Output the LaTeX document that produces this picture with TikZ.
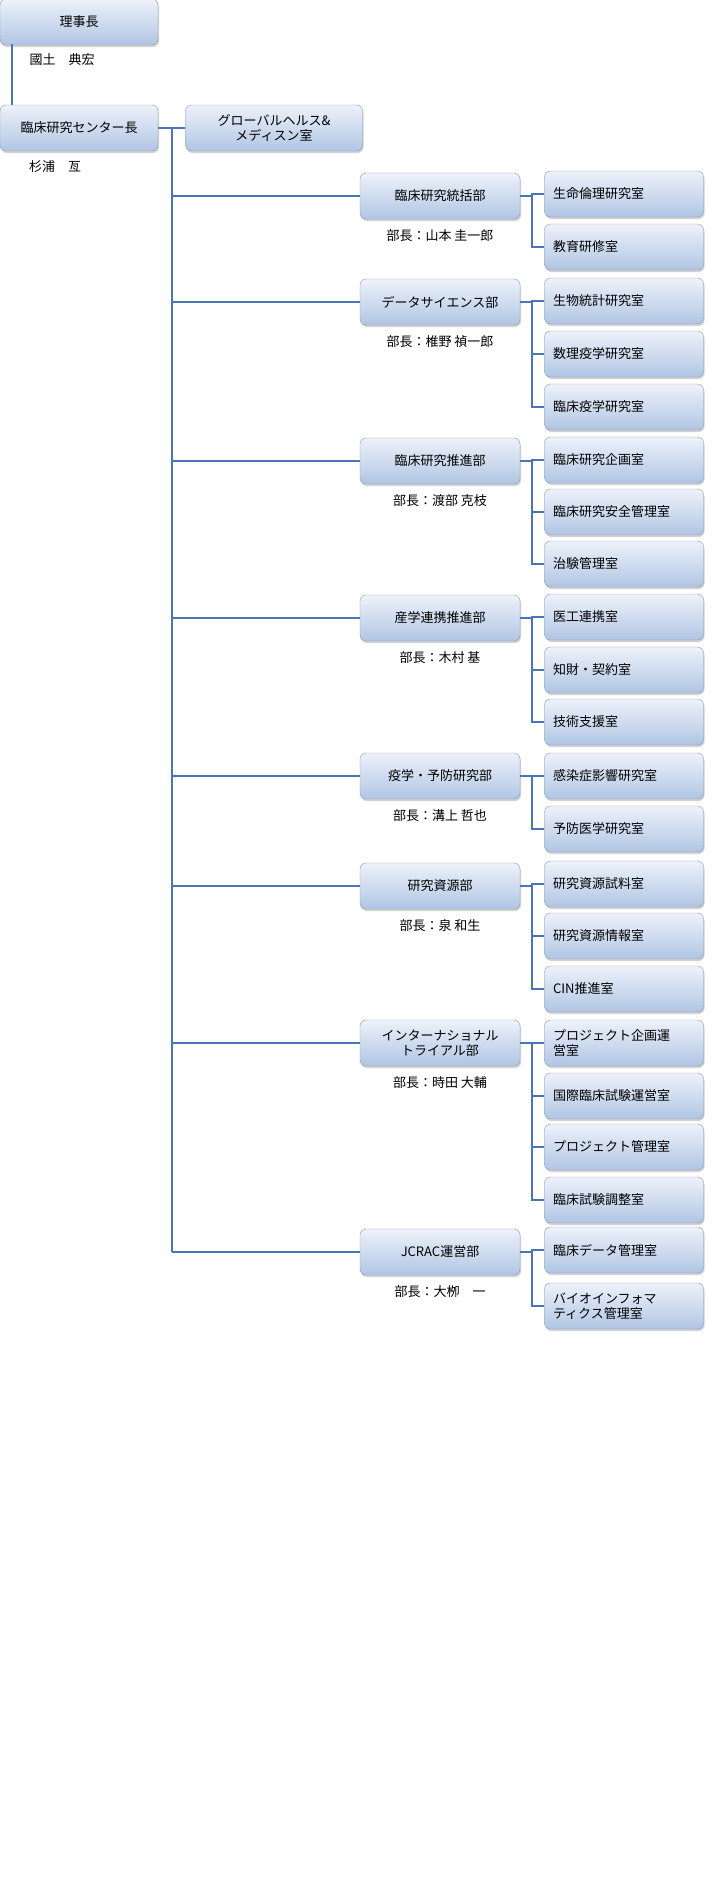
\documentclass[tikz,border=0pt]{standalone}
\usepackage{fontspec}
\setmainfont{Noto Sans CJK JP}
\usetikzlibrary{shadows}
\definecolor{ln}{HTML}{4A76B8}
\definecolor{bd}{HTML}{8A9AB2}
\definecolor{tp}{HTML}{EEF2FA}
\definecolor{bt}{HTML}{B0C5E3}
\tikzset{
 box/.style={draw=bd,rounded corners=6pt,top color=tp,bottom color=bt,minimum height=46pt,align=center,font=\fontsize{13}{15}\selectfont,drop shadow={shadow xshift=1pt,shadow yshift=-2pt,opacity=.35}},
 dbox/.style={box,minimum width=160pt,text width=150pt},
 sbox/.style={box,minimum width=159pt,text width=142pt,align=left},
 nm/.style={font=\fontsize{13}{15}\selectfont},
 con/.style={draw=ln,line width=1.6pt}
}
\begin{document}
\begin{tikzpicture}[x=1pt,y=-1pt]
\useasboundingbox[fill=white] (0,0) rectangle (720,1890);
\node[box,minimum width=158pt] (ri) at (79,22) {理事長};
\node[nm] (rin) at (62,60) {國土\quad 典宏};
\node[box,minimum width=158pt] (ce) at (79,128) {臨床研究センター長};
\node[nm] (cen) at (55,167) {杉浦\quad 亙};
\node[box,minimum width=177pt] (gh) at (274,128) {グローバルヘルス\&\\メディスン室};
\draw[con] (12,44) -- (12,105);
\draw[con] (ce.east) -- (gh.west);
\coordinate (tt) at (172,128);
\coordinate (tb) at (172,1252);
\draw[con] (tt) -- (tb);
\foreach \i/\y/\t/\h in {1/196/臨床研究統括部/部長：山本 圭一郎,2/302/データサイエンス部/部長：椎野 禎一郎,3/461/臨床研究推進部/部長：渡部 克枝,4/618/産学連携推進部/部長：木村 基,5/776/疫学・予防研究部/部長：溝上 哲也,6/886/研究資源部/部長：泉 和生,7/1043/インターナショナル\\トライアル部/部長：時田 大輔,8/1252/JCRAC運営部/部長：大栁\quad 一}{
 \node[dbox] (d\i) at (440,\y) {\t};
 \node[nm] (h\i) at (440,\y+40) {\h};
 \coordinate (t\i) at (172,\y);
 \draw[con] (t\i) -- (d\i.west);
 \coordinate (b\i) at (532,\y);
 \draw[con] (d\i.east) -- (b\i);
}
\foreach \d/\j/\y/\t in {1/1/194/生命倫理研究室,1/2/247/教育研修室,
 2/1/301/生物統計研究室,2/2/354/数理疫学研究室,2/3/407/臨床疫学研究室,
 3/1/460/臨床研究企画室,3/2/512/臨床研究安全管理室,3/3/564/治験管理室,
 4/1/617/医工連携室,4/2/670/知財・契約室,4/3/722/技術支援室,
 5/1/776/感染症影響研究室,5/2/829/予防医学研究室,
 6/1/884/研究資源試料室,6/2/936/研究資源情報室,6/3/989/CIN推進室,
 7/1/1043/プロジェクト企画運\\営室,7/2/1096/国際臨床試験運営室,7/3/1147/プロジェクト管理室,7/4/1200/臨床試験調整室,
 8/1/1250/臨床データ管理室,8/2/1306/バイオインフォマ\\ティクス管理室}{
 \node[sbox] (s\d\j) at (624,\y) {\t};
 \draw[con] (b\d) |- (s\d\j.west);
}
\end{tikzpicture}
\end{document}
